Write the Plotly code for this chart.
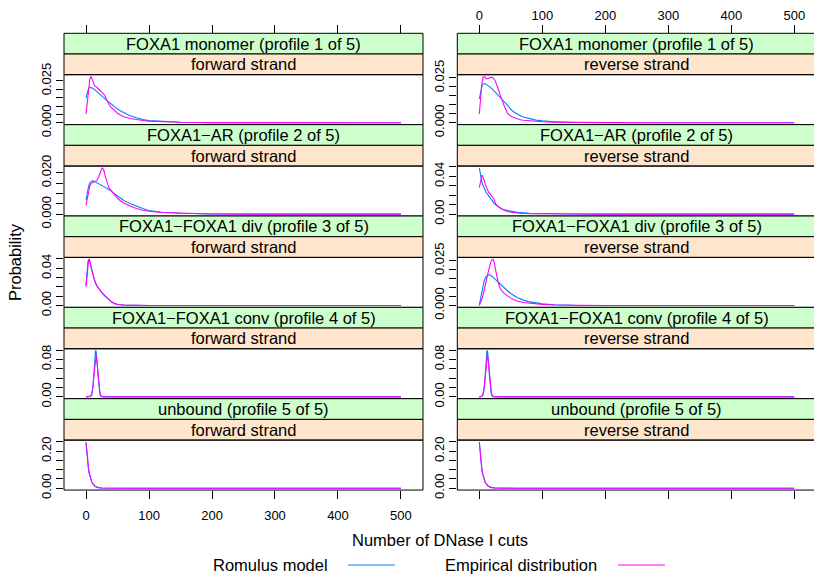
import numpy as np
import plotly.graph_objects as go

W, H = 814, 574

# ---------------------------------------------------------------- labels
profile_titles = [
    "FOXA1 monomer (profile 1 of 5)",
    "FOXA1−AR (profile 2 of 5)",
    "FOXA1−FOXA1 div (profile 3 of 5)",
    "FOXA1−FOXA1 conv (profile 4 of 5)",
    "unbound (profile 5 of 5)",
]
strand_titles = ["forward strand", "reverse strand"]
series_names = ["Romulus model", "Empirical distribution"]
x_title = "Number of DNase I cuts"
y_title = "Probability"
x_ticks = [0, 100, 200, 300, 400, 500]

# ---------------------------------------------------------------- data
# FOXA1 monomer, forward strand
mono_fwd_x = [0, 2, 4, 6, 8, 10, 12, 14, 17, 20, 22, 25, 28, 30, 33, 36, 40, 45, 50, 55,
              60, 70, 80, 90, 100, 120, 150, 200, 300, 400, 500]
mono_fwd_model = [0.0148, 0.0185, 0.0205, 0.0212, 0.0211, 0.0207, 0.0202, 0.0196, 0.0187, 0.0177,
                  0.0170, 0.0160, 0.0150, 0.0143, 0.0134, 0.0124, 0.0111, 0.0096, 0.0082, 0.0070,
                  0.0059, 0.0042, 0.0030, 0.0019, 0.0013, 0.0008, 0.0003, 0.0001, 0.0, 0.0, 0.0]
mono_fwd_emp = [0.0053, 0.0120, 0.0200, 0.0260, 0.0276, 0.0260, 0.0235, 0.0220, 0.0212, 0.0202,
                0.0195, 0.0185, 0.0172, 0.0160, 0.0135, 0.0112, 0.0092, 0.0072, 0.0057, 0.0045,
                0.0036, 0.0026, 0.0019, 0.0014, 0.0010, 0.0006, 0.0003, 0.0001, 0.00003, 0.0, 0.0]

# FOXA1 monomer, reverse strand
mono_rev_x = [0, 2, 4, 6, 8, 10, 12, 14, 17, 20, 22, 25, 28, 30, 33, 36, 40, 45, 50, 55,
              60, 65, 70, 80, 90, 100, 120, 150, 200, 300, 400, 500]
mono_rev_model = [0.0133, 0.0175, 0.0203, 0.0216, 0.0219, 0.0217, 0.0213, 0.0208, 0.0199, 0.0190,
                  0.0183, 0.0172, 0.0161, 0.0155, 0.0146, 0.0132, 0.0116, 0.0097, 0.0074, 0.0060,
                  0.0048, 0.0039, 0.0032, 0.0022, 0.0015, 0.0011, 0.0005, 0.0002, 0.00005, 0.0, 0.0, 0.0]
mono_rev_emp = [0.0049, 0.0140, 0.0220, 0.0255, 0.0258, 0.0250, 0.0245, 0.0247, 0.0253, 0.0254,
                0.0250, 0.0235, 0.0210, 0.0190, 0.0156, 0.0125, 0.0090, 0.0052, 0.0037, 0.0029,
                0.0022, 0.0017, 0.0014, 0.0010, 0.0008, 0.0006, 0.0004, 0.0002, 0.0001, 0.0, 0.0, 0.0]

# FOXA1-AR, forward strand
ar_fwd_x = [0, 2, 4, 6, 8, 10, 12, 14, 17, 20, 22, 25, 26, 28, 30, 33, 36, 40, 45, 50, 55,
            60, 70, 80, 90, 100, 120, 150, 200, 300, 400, 500]
ar_fwd_model = [0.0068, 0.0105, 0.0135, 0.0152, 0.0159, 0.0161, 0.0160, 0.0157, 0.0153, 0.0150,
                0.0146, 0.0141, 0.0139, 0.0135, 0.0131, 0.0125, 0.0121, 0.0112, 0.0099, 0.0087,
                0.0076, 0.0066, 0.0051, 0.0038, 0.0027, 0.0018, 0.0009, 0.0004, 0.0001, 0.0, 0.0, 0.0]
ar_fwd_emp = [0.0042, 0.0080, 0.0115, 0.0138, 0.0148, 0.0151, 0.0153, 0.0155, 0.0162, 0.0180,
              0.0200, 0.0222, 0.0224, 0.0215, 0.0190, 0.0153, 0.0130, 0.0113, 0.0093, 0.0077,
              0.0064, 0.0054, 0.0039, 0.0027, 0.0019, 0.0014, 0.0008, 0.0004, 0.0001, 0.0, 0.0, 0.0]

# FOXA1-AR, reverse strand
ar_rev_x = [0, 1, 2, 3, 4, 5, 6, 8, 10, 12, 15, 18, 20, 23, 26, 30, 35, 40, 50, 60,
            80, 100, 150, 200, 300, 400, 500]
ar_rev_model = [0.0490, 0.0440, 0.0400, 0.0370, 0.0340, 0.0320, 0.0300, 0.0270, 0.0240, 0.0220,
                0.0190, 0.0160, 0.0140, 0.0120, 0.0100, 0.0078, 0.0058, 0.0045, 0.0029, 0.0019,
                0.0009, 0.0005, 0.0001, 0.0, 0.0, 0.0, 0.0]
ar_rev_emp = [0.0280, 0.0320, 0.0360, 0.0390, 0.0410, 0.0410, 0.0390, 0.0340, 0.0300, 0.0270,
              0.0230, 0.0210, 0.0190, 0.0160, 0.0110, 0.0080, 0.0055, 0.0038, 0.0020, 0.0012,
              0.0005, 0.0002, 0.0001, 0.0, 0.0, 0.0, 0.0]

# FOXA1-FOXA1 divergent, forward strand
div_fwd_x = [0, 1, 2, 3, 4, 5, 6, 7, 8, 10, 12, 14, 17, 20, 25, 30, 33, 36, 40, 45, 50,
             60, 80, 100, 150, 200, 300, 400, 500]
div_fwd_model = [0.0220, 0.0330, 0.0420, 0.0470, 0.0492, 0.0490, 0.0470, 0.0440, 0.0410, 0.0350,
                 0.0300, 0.0260, 0.0215, 0.0182, 0.0138, 0.0102, 0.0082, 0.0064, 0.0044, 0.0025,
                 0.0014, 0.0005, 0.0001, 0.0, 0.0, 0.0, 0.0, 0.0, 0.0]
div_fwd_emp = [0.0200, 0.0300, 0.0400, 0.0460, 0.0490, 0.0497, 0.0480, 0.0450, 0.0410, 0.0350,
               0.0300, 0.0260, 0.0210, 0.0180, 0.0140, 0.0105, 0.0082, 0.0062, 0.0040, 0.0020,
               0.0011, 0.0004, 0.0001, 0.0, 0.0, 0.0, 0.0, 0.0, 0.0]

# FOXA1-FOXA1 divergent, reverse strand
div_rev_x = [0, 2, 4, 6, 8, 10, 12, 14, 16, 18, 20, 22, 24, 26, 28, 30, 33, 36, 40, 45, 50,
             55, 60, 70, 80, 100, 120, 150, 200, 300, 400, 500]
div_rev_model = [0.0005, 0.0040, 0.0080, 0.0115, 0.0141, 0.0158, 0.0167, 0.0171, 0.0171, 0.0168,
                 0.0163, 0.0157, 0.0150, 0.0143, 0.0136, 0.0129, 0.0118, 0.0108, 0.0096, 0.0081,
                 0.0067, 0.0055, 0.0045, 0.0030, 0.0020, 0.0009, 0.0004, 0.0001, 0.0, 0.0, 0.0, 0.0]
div_rev_emp = [0.0000, 0.0015, 0.0035, 0.0060, 0.0095, 0.0130, 0.0158, 0.0187, 0.0215, 0.0240,
               0.0256, 0.0258, 0.0235, 0.0195, 0.0155, 0.0128, 0.0098, 0.0080, 0.0066, 0.0052,
               0.0041, 0.0032, 0.0025, 0.0017, 0.0012, 0.0006, 0.0003, 0.0001, 0.0, 0.0, 0.0, 0.0]

# FOXA1-FOXA1 convergent, forward strand
conv_fwd_x = [0, 4, 6, 8, 9, 10, 11, 12, 13, 14, 15, 16, 17, 18, 19, 20, 21, 22, 23, 24,
              26, 28, 30, 40, 100, 200, 300, 400, 500]
conv_fwd_model = [0.0, 0.0, 0.0002, 0.0016, 0.0042, 0.0100, 0.0210, 0.0380, 0.0600, 0.0830,
                  0.0990, 0.0980, 0.0860, 0.0660, 0.0450, 0.0270, 0.0140, 0.0065, 0.0026, 0.0009,
                  0.0001, 0.0, 0.0, 0.0, 0.0, 0.0, 0.0, 0.0, 0.0]
conv_fwd_emp = [0.0, 0.0001, 0.0006, 0.0030, 0.0065, 0.0135, 0.0250, 0.0400, 0.0590, 0.0770,
                0.0890, 0.0900, 0.0810, 0.0650, 0.0470, 0.0310, 0.0190, 0.0100, 0.0050, 0.0022,
                0.0004, 0.0001, 0.0, 0.0, 0.0, 0.0, 0.0, 0.0, 0.0]

# FOXA1-FOXA1 convergent, reverse strand
conv_rev_x = [0, 1, 3, 5, 6, 7, 8, 9, 10, 11, 12, 13, 14, 15, 16, 17, 18, 19, 20, 21,
              23, 25, 27, 40, 100, 200, 300, 400, 500]
conv_rev_model = [0.0, 0.0, 0.0002, 0.0016, 0.0042, 0.0100, 0.0210, 0.0380, 0.0600, 0.0830,
                  0.0990, 0.0980, 0.0860, 0.0660, 0.0450, 0.0270, 0.0140, 0.0065, 0.0026, 0.0009,
                  0.0001, 0.0, 0.0, 0.0, 0.0, 0.0, 0.0, 0.0, 0.0]
conv_rev_emp = [0.0, 0.0001, 0.0006, 0.0030, 0.0065, 0.0135, 0.0250, 0.0400, 0.0590, 0.0770,
                0.0890, 0.0900, 0.0810, 0.0650, 0.0470, 0.0310, 0.0190, 0.0100, 0.0050, 0.0022,
                0.0004, 0.0001, 0.0, 0.0, 0.0, 0.0, 0.0, 0.0, 0.0]

# unbound, forward strand
unb_fwd_x = [0, 1, 2, 3, 4, 5, 6, 7, 8, 9, 10, 12, 14, 16, 18, 20, 25, 30, 40, 60,
             100, 200, 300, 400, 500]
unb_fwd_model = [0.250, 0.200, 0.160, 0.128, 0.102, 0.082, 0.066, 0.052, 0.042, 0.034,
                 0.027, 0.017, 0.011, 0.007, 0.0045, 0.0030, 0.0010, 0.0003, 0.0001, 0.0,
                 0.0, 0.0, 0.0, 0.0, 0.0]
unb_fwd_emp = [0.245, 0.196, 0.158, 0.127, 0.102, 0.082, 0.066, 0.053, 0.043, 0.035,
               0.028, 0.018, 0.012, 0.008, 0.0050, 0.0033, 0.0012, 0.0004, 0.0001, 0.0,
               0.0, 0.0, 0.0, 0.0, 0.0]

# unbound, reverse strand
unb_rev_x = [0, 1, 2, 3, 4, 5, 6, 7, 8, 9, 10, 12, 14, 16, 18, 20, 25, 30, 40, 60,
             100, 200, 300, 400, 500]
unb_rev_model = [0.250, 0.199, 0.159, 0.127, 0.101, 0.081, 0.065, 0.052, 0.042, 0.034,
                 0.027, 0.017, 0.011, 0.007, 0.0045, 0.0030, 0.0010, 0.0003, 0.0001, 0.0,
                 0.0, 0.0, 0.0, 0.0, 0.0]
unb_rev_emp = [0.247, 0.197, 0.158, 0.127, 0.102, 0.082, 0.066, 0.053, 0.043, 0.035,
               0.028, 0.018, 0.012, 0.008, 0.0050, 0.0033, 0.0012, 0.0004, 0.0001, 0.0,
               0.0, 0.0, 0.0, 0.0, 0.0]

# row-major: (profile, strand)
panel_data = [
    (mono_fwd_x, mono_fwd_model, mono_fwd_emp), (mono_rev_x, mono_rev_model, mono_rev_emp),
    (ar_fwd_x, ar_fwd_model, ar_fwd_emp), (ar_rev_x, ar_rev_model, ar_rev_emp),
    (div_fwd_x, div_fwd_model, div_fwd_emp), (div_rev_x, div_rev_model, div_rev_emp),
    (conv_fwd_x, conv_fwd_model, conv_fwd_emp), (conv_rev_x, conv_rev_model, conv_rev_emp),
    (unb_fwd_x, unb_fwd_model, unb_fwd_emp), (unb_rev_x, unb_rev_model, unb_rev_emp),
]

# per-panel y tick spacing and the tick labels that are printed
y_tick_step = [0.005, 0.005, 0.005, 0.01, 0.01, 0.005, 0.02, 0.02, 0.05, 0.05]
y_tick_labels = [
    ["0.000", "0.025"], ["0.000", "0.025"],
    ["0.000", "0.020"], ["0.00", "0.04"],
    ["0.00", "0.04"], ["0.000", "0.025"],
    ["0.00", "0.08"], ["0.00", "0.08"],
    ["0.00", "0.20"], ["0.00", "0.20"],
]

# ---------------------------------------------------------------- styling
FONT = "Liberation Sans, Arial, Helvetica, sans-serif"
COL_MODEL = "#0080FF"
COL_EMP = "#FF00FF"
STRIP_OUTER = "#CCFFCC"
STRIP_INNER = "#FFE5CC"

col_left = [64.0, 457.3]          # panel left edges (px)
px_per_unit = 359.0 / 570.0        # horizontal scale
x_lo = -35.0
row_top0, row_h, strip_h = 33.3, 91.35, 20.7


def px(v):
    return v / W


def py(v):
    return 1 - v / H


fig = go.Figure()
shapes, annotations = [], []
layout_axes = {}

for r in range(5):
    top = row_top0 + r * row_h
    plot_top = top + 2 * strip_h
    plot_bot = top + row_h
    for c in range(2):
        k = r * 2 + c + 1
        xs, model, emp = panel_data[k - 1]
        left = col_left[c]
        right = left + 359.0
        dom_right = min(right, W)
        x_hi = x_lo + (dom_right - left) / px_per_unit

        fig.add_trace(go.Scatter(x=xs, y=model, mode="lines", name=series_names[0],
                                 line=dict(color=COL_MODEL, width=1.1),
                                 xaxis=f"x{k}", yaxis=f"y{k}", showlegend=False, hoverinfo="skip"))
        fig.add_trace(go.Scatter(x=xs, y=emp, mode="lines", name=series_names[1],
                                 line=dict(color=COL_EMP, width=1.1),
                                 xaxis=f"x{k}", yaxis=f"y{k}", showlegend=False, hoverinfo="skip"))

        ymin = min(min(model), min(emp))
        ymax = max(max(model), max(emp))
        pad = 0.04 * (ymax - ymin)
        step = y_tick_step[k - 1]
        tvals = [round(i * step, 6) for i in range(int((ymax + pad) / step + 1e-9) + 1)]
        labelled = {round(float(t), 6): t for t in y_tick_labels[k - 1]}
        ttext = [labelled.get(v, "") for v in tvals]

        xa = dict(domain=[px(left), px(dom_right)], range=[x_lo, x_hi],
                  showgrid=False, zeroline=False, showline=False, automargin=False,
                  tickvals=x_ticks, ticktext=[str(t) for t in x_ticks],
                  tickfont=dict(family=FONT, size=13, color="black"),
                  ticklen=8, tickwidth=1, tickcolor="black")
        if r == 0:
            xa.update(side="top", anchor="free", position=py(top), ticks="outside",
                      showticklabels=(c == 1))
        elif r == 4:
            xa.update(anchor=f"y{k}", side="bottom", ticks="outside",
                      showticklabels=(c == 0), ticklabelstandoff=5)
        else:
            xa.update(anchor=f"y{k}", ticks="", showticklabels=False)

        ya = dict(domain=[py(plot_bot), py(plot_top)], range=[ymin - pad, ymax + pad],
                  anchor=f"x{k}", showgrid=False, zeroline=False, showline=False,
                  automargin=False,
                  tickvals=tvals, ticktext=ttext, tickangle=-90, ticks="outside",
                  ticklen=7, tickwidth=1, tickcolor="black",
                  tickfont=dict(family=FONT, size=13, color="black"))

        layout_axes[f"xaxis{k}"] = xa
        layout_axes[f"yaxis{k}"] = ya

        # strips and panel box
        for i, (fill, label) in enumerate([(STRIP_OUTER, profile_titles[r]),
                                           (STRIP_INNER, strand_titles[c])]):
            y0 = top + i * strip_h
            shapes.append(dict(type="rect", xref="paper", yref="paper",
                               x0=px(left), x1=px(right), y0=py(y0 + strip_h), y1=py(y0),
                               fillcolor=fill, line=dict(color="black", width=1), layer="above"))
            annotations.append(dict(x=px((left + right) / 2), y=py(y0 + strip_h / 2),
                                    xref="paper", yref="paper", text=label, showarrow=False,
                                    xanchor="center", yanchor="middle",
                                    font=dict(family=FONT, size=16.5, color="black")))
        shapes.append(dict(type="rect", xref="paper", yref="paper",
                           x0=px(left), x1=px(right), y0=py(plot_bot), y1=py(plot_top),
                           line=dict(color="black", width=1), layer="above"))

# axis titles
annotations.append(dict(x=px(440), y=py(540), xref="paper", yref="paper", text=x_title,
                        showarrow=False, xanchor="center", yanchor="middle",
                        font=dict(family=FONT, size=16.5, color="black")))
annotations.append(dict(x=px(15), y=py(262), xref="paper", yref="paper", text=y_title,
                        textangle=-90, showarrow=False, xanchor="center", yanchor="middle",
                        font=dict(family=FONT, size=16.5, color="black")))

# key below the panels
key_items = [(series_names[0], COL_MODEL, 270.5, 348, 395),
             (series_names[1], COL_EMP, 520.5, 618, 665)]
for name, colr, tx, l0, l1 in key_items:
    annotations.append(dict(x=px(tx), y=py(565), xref="paper", yref="paper", text=name,
                            showarrow=False, xanchor="center", yanchor="middle",
                            font=dict(family=FONT, size=16.5, color="black")))
    shapes.append(dict(type="line", xref="paper", yref="paper", x0=px(l0), x1=px(l1),
                       y0=py(565), y1=py(565), line=dict(color=colr, width=1.1)))

fig.update_layout(
    width=W, height=H, margin=dict(l=0, r=0, t=0, b=0, pad=0, autoexpand=False),
    paper_bgcolor="white", plot_bgcolor="white",
    showlegend=False, shapes=shapes, annotations=annotations,
    font=dict(family=FONT, color="black"),
    **layout_axes,
)

fig.write_html("out.html", config={"displayModeBar": False})
